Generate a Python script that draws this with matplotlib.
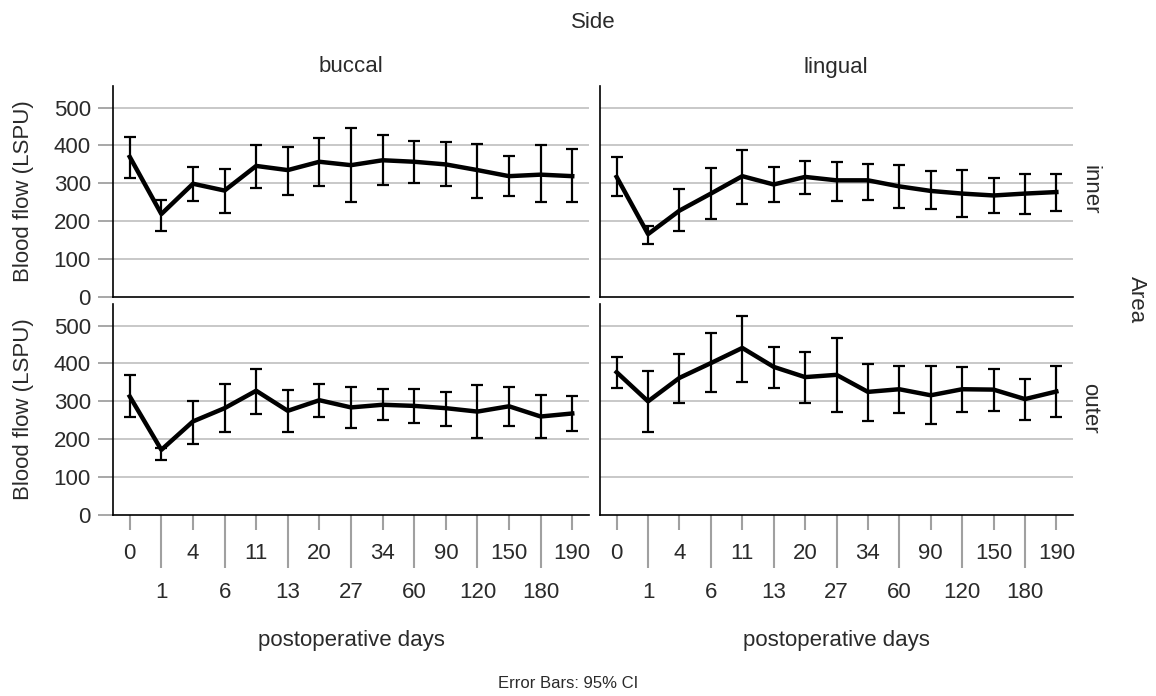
import matplotlib
matplotlib.use("Agg")
import matplotlib.pyplot as plt
import numpy as np

plt.rcParams['font.family'] = ['Liberation Sans', 'DejaVu Sans']

days = ["0", "1", "4", "6", "11", "13", "20", "27", "34", "60", "90", "120", "150", "180", "190"]

# buccal / inner
bi_mean = [370, 219, 299, 281, 346, 335, 357, 348, 361, 357, 350, 335, 319, 323, 319]
bi_lo   = [314, 173, 254, 223, 288, 270, 292, 250, 296, 301, 292, 261, 267, 250, 250]
bi_hi   = [423, 257, 342, 339, 401, 397, 419, 446, 427, 412, 408, 405, 373, 401, 392]
# lingual / inner
li_mean = [317, 166, 228, 273, 319, 297, 317, 308, 308, 292, 280, 273, 268, 273, 277]
li_lo   = [266, 140, 173, 206, 245, 250, 272, 254, 256, 236, 231, 211, 223, 220, 228]
li_hi   = [370, 188, 286, 341, 389, 343, 359, 356, 351, 348, 333, 336, 313, 325, 324]
# buccal / outer
bo_mean = [313, 172, 247, 282, 328, 275, 303, 284, 291, 288, 282, 273, 287, 260, 268]
bo_lo   = [258, 145, 187, 220, 266, 219, 259, 229, 250, 243, 236, 204, 236, 204, 223]
bo_hi   = [369, 178, 302, 345, 386, 329, 347, 337, 332, 333, 326, 342, 337, 318, 315]
# lingual / outer
lo_mean = [377, 300, 362, 401, 441, 391, 364, 370, 325, 332, 316, 332, 331, 306, 326]
lo_lo   = [334, 220, 296, 324, 351, 335, 296, 272, 247, 270, 240, 273, 275, 250, 259]
lo_hi   = [417, 381, 424, 480, 526, 444, 431, 468, 398, 394, 394, 391, 386, 360, 394]

sides = ["buccal", "lingual"]
areas = ["inner", "outer"]
panels = {
    ("inner", "buccal"): (bi_mean, bi_lo, bi_hi),
    ("inner", "lingual"): (li_mean, li_lo, li_hi),
    ("outer", "buccal"): (bo_mean, bo_lo, bo_hi),
    ("outer", "lingual"): (lo_mean, lo_lo, lo_hi),
}

W, H = 1156, 696
fig = plt.figure(figsize=(W / 100, H / 100), dpi=100)
TXT = '#2a2a2a'
GRID = '#c4c4c4'
TICK = '#a0a0a0'
FS = 16

def px_rect(x0, y0, x1, y1):
    return [x0 / W, 1 - y1 / H, (x1 - x0) / W, (y1 - y0) / H]

xcols = [(113, 589), (600, 1073)]
yrows = [(86, 297), (304, 515)]

x = np.arange(len(days))
for r, area in enumerate(areas):
    for c, side in enumerate(sides):
        ax = fig.add_axes(px_rect(xcols[c][0], yrows[r][0], xcols[c][1], yrows[r][1]))
        m, lo, hi = panels[(area, side)]
        m = np.array(m); lo = np.array(lo); hi = np.array(hi)
        ax.errorbar(x, m, yerr=[m - lo, hi - m], fmt='none', ecolor='black',
                    elinewidth=1.6, capsize=4, capthick=1.6, zorder=3)
        ax.plot(x, m, color='black', lw=3.2, solid_joinstyle='round', zorder=4)
        ax.set_xlim(-0.53, 14.53)
        ax.set_ylim(0, 557)
        for yv in [100, 200, 300, 400, 500]:
            ax.axhline(yv, color=GRID, lw=1.3, zorder=1)
        for s in ['top', 'right']:
            ax.spines[s].set_visible(False)
        for s in ['left', 'bottom']:
            ax.spines[s].set_color('black')
            ax.spines[s].set_linewidth(1.2)
        ax.set_yticks([0, 100, 200, 300, 400, 500])
        if c == 0:
            ax.tick_params(axis='y', length=11, width=1.3, color=TICK, labelsize=FS,
                           labelcolor=TXT, pad=5)
            ax.set_ylabel("Blood flow (LSPU)", fontsize=FS, color=TXT, labelpad=14)
        else:
            ax.tick_params(axis='y', length=0, labelleft=False)
        if r == 1:
            ax.set_xticks(x[::2])
            ax.set_xticklabels(days[::2])
            ax.set_xticks(x[1::2], minor=True)
            ax.set_xticklabels(days[1::2], minor=True)
            ax.tick_params(axis='x', which='major', length=11, width=1.5, color=TICK,
                           labelsize=FS, labelcolor=TXT, pad=9)
            ax.tick_params(axis='x', which='minor', length=38, width=1.5, color=TICK,
                           labelsize=FS, labelcolor=TXT, pad=10)
            ax.set_xlabel("postoperative days", fontsize=FS, color=TXT, labelpad=20)
        else:
            ax.set_xticks([])

def ftext(px, py, s, **kw):
    fig.text(px / W, 1 - py / H, s, color=TXT, **kw)

ftext(593, 22, "Side", fontsize=FS, ha='center', va='center')
ftext(351, 67, "buccal", fontsize=FS, ha='center', va='center')
ftext(836, 67, "lingual", fontsize=FS, ha='center', va='center')
ftext(1090, 190, "inner", fontsize=FS, ha='center', va='center', rotation=270)
ftext(1090, 408, "outer", fontsize=FS, ha='center', va='center', rotation=270)
ftext(1136, 300, "Area", fontsize=FS, ha='center', va='center', rotation=270)
ftext(568, 684, "Error Bars: 95% CI", fontsize=12, ha='center', va='center')

fig.savefig("out.png", dpi=100)
